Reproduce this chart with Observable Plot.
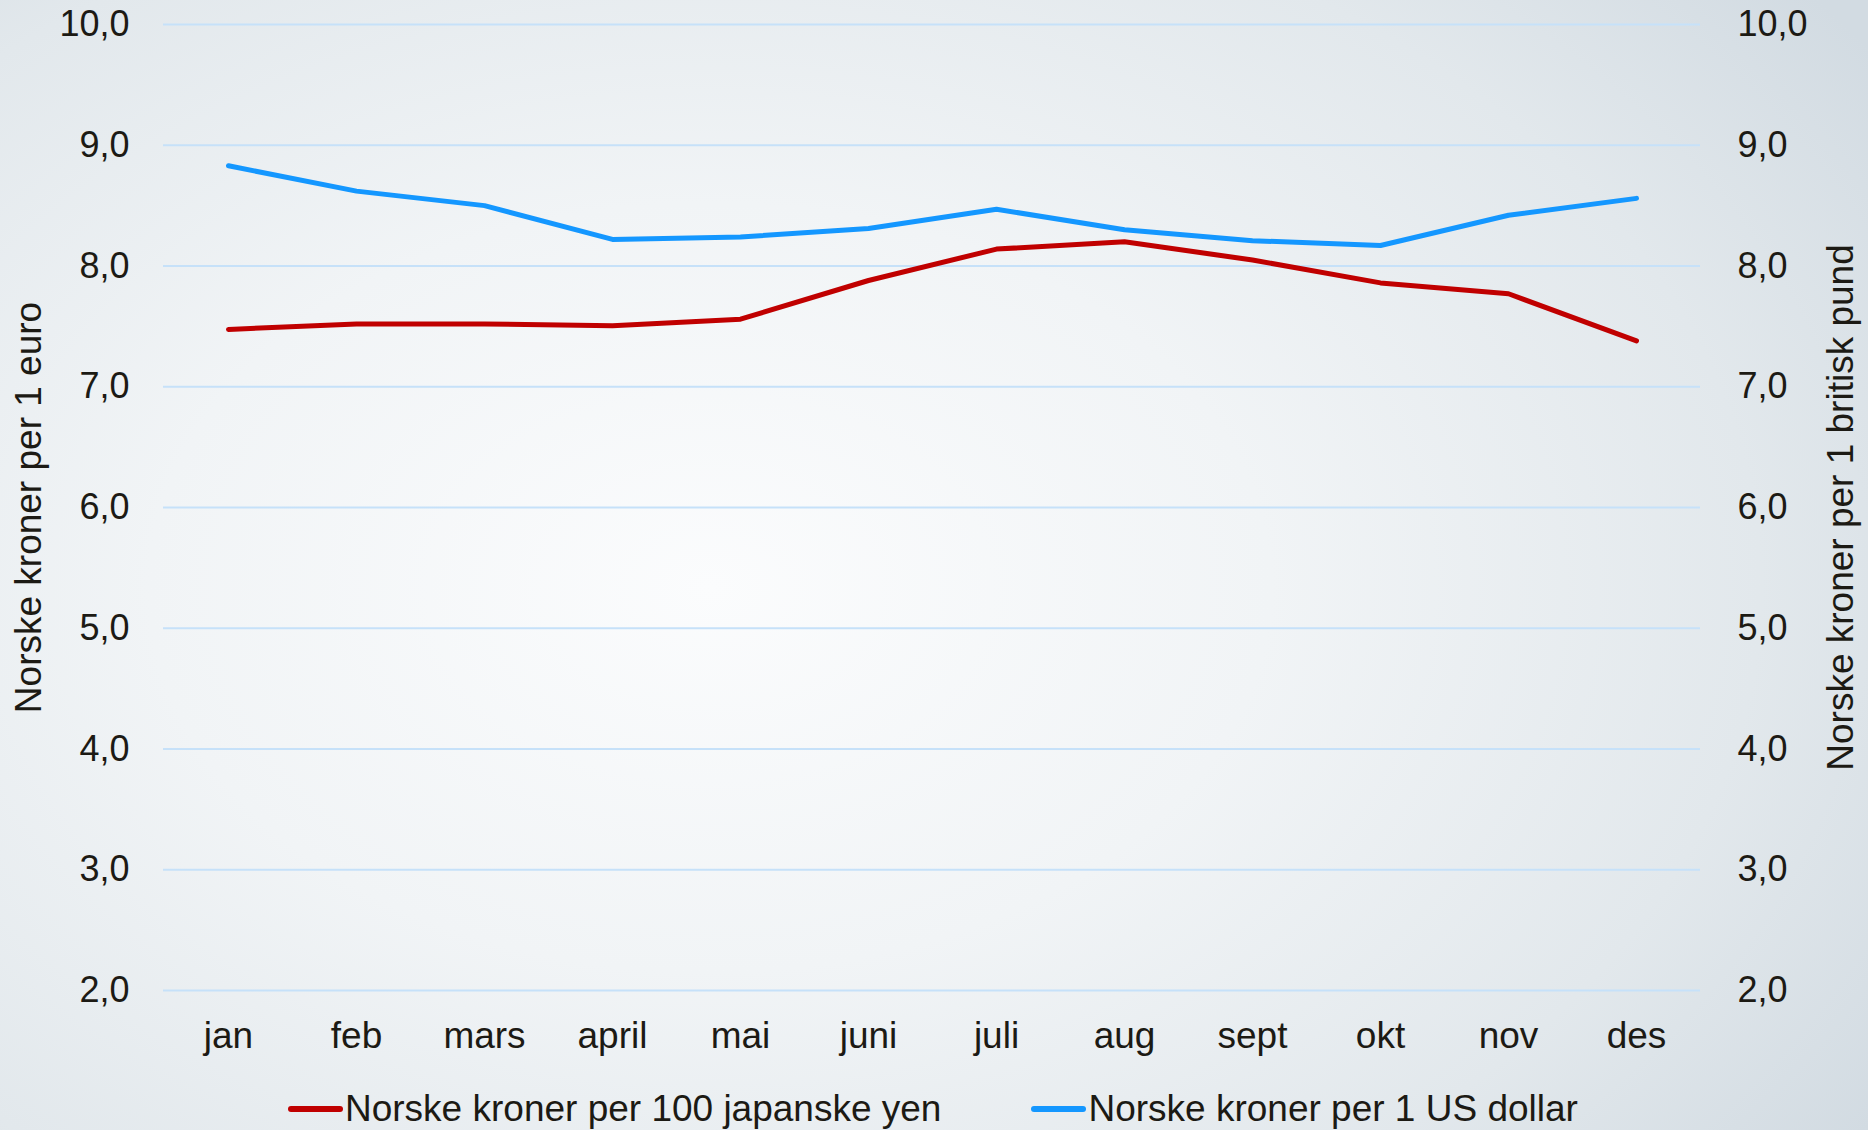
<!DOCTYPE html>
<html>
<head>
<meta charset="utf-8">
<script src="https://cdn.jsdelivr.net/npm/d3@7"></script>
<script src="https://cdn.jsdelivr.net/npm/@observablehq/plot@0.6"></script>
<style>
  html, body { margin: 0; padding: 0; }
  body {
    width: 1868px; height: 1130px; overflow: hidden; position: relative;
    font-family: "Liberation Sans", Arial, sans-serif; color: #1c1a14;
    background: radial-gradient(ellipse 75% 85% at 38% 52%, #fbfcfd 0%, #f1f4f6 40%, #e2e8ec 75%, #d2dbe2 100%);
  }
  #chart svg { display: block; background: transparent; }
  #legend {
    position: absolute; left: 288px; top: 1087px; display: flex; align-items: center;
    font-size: 37px; line-height: 44px; white-space: nowrap;
  }
  .item { display: flex; align-items: center; }
  .sw { width: 55px; height: 6px; border-radius: 3px; margin-right: 2px; }
</style>
</head>
<body>
<div id="chart"></div>
<div id="legend"></div>
<script>
const months = ["jan","feb","mars","april","mai","juni","juli","aug","sept","okt","nov","des"];
const yen = [7.475, 7.52, 7.52, 7.505, 7.56, 7.88, 8.14, 8.20, 8.05, 7.86, 7.77, 7.38];
const usd = [8.83, 8.62, 8.50, 8.22, 8.24, 8.31, 8.47, 8.30, 8.21, 8.17, 8.42, 8.56];
const yTicks = [2, 3, 4, 5, 6, 7, 8, 9, 10];
const seriesNames = ["Norske kroner per 100 japanske yen", "Norske kroner per 1 US dollar"];
const seriesColors = ["#c00000", "#1497ff"];
const leftTitle = "Norske kroner per 1 euro";
const rightTitle = "Norske kroner per 1 britisk pund";

const rows = [];
months.forEach((m, i) => {
  rows.push({month: m, value: yen[i], series: seriesNames[0]});
  rows.push({month: m, value: usd[i], series: seriesNames[1]});
});

const fmt = d => d.toFixed(1).replace(".", ",");
const font = "'Liberation Sans', Arial, sans-serif";

const chart = Plot.plot({
  width: 1868,
  height: 1070,
  marginTop: 24,
  marginBottom: 80,
  marginLeft: 163,
  marginRight: 168,
  style: {fontFamily: font, background: "transparent", color: "#1c1a14"},
  x: {type: "point", domain: months, padding: 0.5},
  y: {domain: [2, 10]},
  color: {domain: seriesNames, range: seriesColors},
  marks: [
    Plot.ruleY(yTicks, {stroke: "#c6e1f9", strokeWidth: 2}),
    Plot.axisY(yTicks, {anchor: "left", tickSize: 0, tickPadding: 34, tickFormat: fmt, fontSize: 36, label: null, fill: "#1c1a14"}),
    Plot.axisY(yTicks, {anchor: "right", tickSize: 0, tickPadding: 37, tickFormat: fmt, fontSize: 36, label: null, fill: "#1c1a14"}),
    Plot.axisX({anchor: "bottom", tickSize: 0, tickPadding: 31, fontSize: 37, label: null, fill: "#1c1a14"}),
    Plot.line(rows, {x: "month", y: "value", z: "series", stroke: "series", strokeWidth: 5, strokeLinecap: "round", strokeLinejoin: "round"}),
    Plot.text([leftTitle], {frameAnchor: "left", textAnchor: "middle", dx: -134, rotate: -90, text: d => d, fontSize: 37, fill: "#1c1a14"}),
    Plot.text([rightTitle], {frameAnchor: "right", textAnchor: "middle", dx: 141, rotate: -90, text: d => d, fontSize: 37, fill: "#1c1a14"})
  ]
});
document.getElementById("chart").appendChild(chart);

const legend = document.getElementById("legend");
seriesNames.forEach((name, i) => {
  const item = document.createElement("div");
  item.className = "item";
  if (i > 0) item.style.marginLeft = "90px";
  const sw = document.createElement("div");
  sw.className = "sw";
  sw.style.background = seriesColors[i];
  const t = document.createElement("span");
  t.textContent = name;
  item.appendChild(sw);
  item.appendChild(t);
  legend.appendChild(item);
});
</script>
</body>
</html>
